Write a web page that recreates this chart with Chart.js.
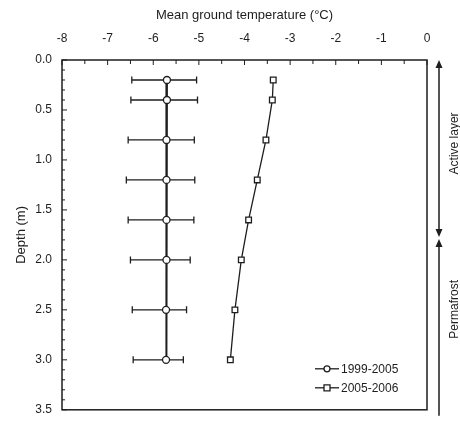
<!DOCTYPE html>
<html>
<head>
<meta charset="utf-8">
<script src="https://cdn.jsdelivr.net/npm/chart.js@4.4.1/dist/chart.umd.min.js"></script>
<style>
  html, body { margin: 0; padding: 0; background: #fff; }
  #wrap { width: 460px; height: 427px; }
</style>
</head>
<body>
<div id="wrap"><canvas id="profile"></canvas></div>
<script>
// Depths (m) of the sensors
const depths = [0.2, 0.4, 0.8, 1.2, 1.6, 2.0, 2.5, 3.0];

// 1999-2005 mean with min / max range
const temps9905 = [-5.70, -5.70, -5.71, -5.71, -5.71, -5.71, -5.72, -5.72];
const low9905 = [-6.47, -6.49, -6.55, -6.59, -6.55, -6.50, -6.46, -6.44];
const high9905 = [-5.05, -5.03, -5.10, -5.09, -5.11, -5.19, -5.27, -5.34];

// 2005-2006 mean
const temps0506 = [-3.37, -3.39, -3.53, -3.72, -3.91, -4.07, -4.21, -4.31];

const seriesLabels = ['1999-2005', '2005-2006'];
const xTicks = [-8, -7, -6, -5, -4, -3, -2, -1, 0];
const yTicks = [0.0, 0.5, 1.0, 1.5, 2.0, 2.5, 3.0, 3.5];

// base of the active layer (m)
const activeLayerBase = 1.78;

const ink = '#1e1e1e';
const font = 'Liberation Sans, Arial, sans-serif';

const toPoints = (xs) => xs.map((x, i) => ({ x: x, y: depths[i] }));

// error bars, inward ticks, frame, legend and the layer arrows
const extras = {
  id: 'extras',
  beforeDatasetsDraw(chart) {
    const ctx = chart.ctx;
    const xs = chart.scales.x;
    const ys = chart.scales.y;
    const a = chart.chartArea;
    ctx.save();
    ctx.strokeStyle = ink;
    ctx.lineWidth = 1.3;
    depths.forEach((d, i) => {
      const y = ys.getPixelForValue(d);
      const x1 = xs.getPixelForValue(low9905[i]);
      const x2 = xs.getPixelForValue(high9905[i]);
      ctx.beginPath();
      ctx.moveTo(x1, y); ctx.lineTo(x2, y);
      ctx.moveTo(x1, y - 3.5); ctx.lineTo(x1, y + 3.5);
      ctx.moveTo(x2, y - 3.5); ctx.lineTo(x2, y + 3.5);
      ctx.stroke();
    });

    // frame
    ctx.lineWidth = 1.5;
    ctx.strokeRect(a.left, a.top, a.right - a.left, a.bottom - a.top);

    // inward ticks
    ctx.lineWidth = 1;
    ctx.beginPath();
    for (let v = -8; v <= 0.001; v += 0.5) {
      const x = xs.getPixelForValue(v);
      const len = Number.isInteger(v) ? 5 : 4;
      ctx.moveTo(x, a.top); ctx.lineTo(x, a.top + len);
    }
    for (let k = 0; k <= 35; k++) {
      const y = ys.getPixelForValue(k / 10);
      const len = k % 5 === 0 ? 5 : 3;
      ctx.moveTo(a.left, y); ctx.lineTo(a.left + len, y);
    }
    ctx.stroke();
    ctx.restore();
  },
  afterDraw(chart) {
    const ctx = chart.ctx;
    const ys = chart.scales.y;
    const a = chart.chartArea;
    ctx.save();
    ctx.strokeStyle = ink;
    ctx.fillStyle = ink;

    // legend
    const lx = a.right - 112;
    const ly = a.bottom - 41;
    seriesLabels.forEach((lab, i) => {
      const y = ly + i * 19;
      ctx.lineWidth = 1.3;
      ctx.beginPath();
      ctx.moveTo(lx, y); ctx.lineTo(lx + 24, y);
      ctx.stroke();
      ctx.fillStyle = '#fff';
      ctx.beginPath();
      if (i === 0) {
        ctx.arc(lx + 12, y, 3, 0, Math.PI * 2);
      } else {
        ctx.rect(lx + 9, y - 3, 6, 6);
      }
      ctx.fill();
      ctx.stroke();
      ctx.fillStyle = ink;
      ctx.font = '12px ' + font;
      ctx.textBaseline = 'middle';
      ctx.textAlign = 'left';
      ctx.fillText(lab, lx + 26, y + 1);
    });

    // layer arrows
    const ax = a.right + 12;
    const yTop = ys.getPixelForValue(0);
    const yMid1 = ys.getPixelForValue(activeLayerBase) - 1;
    const yMid2 = ys.getPixelForValue(activeLayerBase) + 1;
    const yEnd = ys.getPixelForValue(3.5) + 6;
    ctx.lineWidth = 1.5;
    ctx.beginPath();
    ctx.moveTo(ax, yTop + 4); ctx.lineTo(ax, yMid1 - 4);
    ctx.moveTo(ax, yMid2 + 4); ctx.lineTo(ax, yEnd);
    ctx.stroke();
    const head = (y, dir) => {
      ctx.beginPath();
      ctx.moveTo(ax, y);
      ctx.lineTo(ax - 3.5, y + dir * 8);
      ctx.lineTo(ax + 3.5, y + dir * 8);
      ctx.closePath();
      ctx.fill();
    };
    head(yTop, 1);
    head(yMid1, -1);
    head(yMid2, 1);

    ctx.font = '12px ' + font;
    ctx.textAlign = 'center';
    ctx.textBaseline = 'middle';
    const vText = (txt, y) => {
      ctx.save();
      ctx.translate(ax + 16, y);
      ctx.rotate(-Math.PI / 2);
      ctx.fillText(txt, 0, 0);
      ctx.restore();
    };
    vText('Active layer', (yTop + yMid1) / 2 - 5);
    vText('Permafrost', (yMid2 + yEnd) / 2 - 18);
    ctx.restore();
  }
};

new Chart(document.getElementById('profile'), {
  type: 'scatter',
  data: {
    datasets: [
      {
        label: seriesLabels[0],
        data: toPoints(temps9905),
        showLine: true,
        borderColor: ink,
        borderWidth: 2,
        pointStyle: 'circle',
        pointRadius: 3.5,
        pointBorderWidth: 1.3,
        pointBackgroundColor: '#fff',
        pointBorderColor: ink
      },
      {
        label: seriesLabels[1],
        data: toPoints(temps0506),
        showLine: true,
        borderColor: ink,
        borderWidth: 1.3,
        pointStyle: 'rect',
        pointRadius: 4,
        pointBorderWidth: 1.3,
        pointBackgroundColor: '#fff',
        pointBorderColor: ink
      }
    ]
  },
  options: {
    responsive: true,
    maintainAspectRatio: false,
    animation: false,
    layout: { padding: { top: 0, left: 0, right: 33, bottom: 14 } },
    plugins: {
      legend: { display: false },
      tooltip: { enabled: false }
    },
    scales: {
      x: {
        type: 'linear',
        position: 'top',
        min: -8,
        max: 0,
        afterBuildTicks: (scale) => { scale.ticks = xTicks.map(v => ({ value: v })); },
        afterFit: (scale) => { scale.height = 60; },
        grid: { display: false, drawTicks: false },
        border: { display: false },
        ticks: {
          color: ink,
          padding: 14,
          font: { family: font, size: 12 },
          callback: (v) => String(v)
        },
        title: {
          display: true,
          text: 'Mean ground temperature (°C)',
          color: ink,
          font: { family: font, size: 13 },
          padding: { top: 8, bottom: 0 }
        }
      },
      y: {
        type: 'linear',
        reverse: true,
        min: 0,
        max: 3.5,
        afterBuildTicks: (scale) => { scale.ticks = yTicks.map(v => ({ value: v })); },
        afterFit: (scale) => { scale.width = 62; },
        grid: { display: false, drawTicks: false },
        border: { display: false },
        ticks: {
          color: ink,
          padding: 10,
          font: { family: font, size: 12 },
          callback: (v) => Number(v).toFixed(1)
        },
        title: {
          display: true,
          text: 'Depth (m)',
          color: ink,
          font: { family: font, size: 13 },
          padding: { top: 14, bottom: 0 }
        }
      }
    }
  },
  plugins: [extras]
});
</script>
</body>
</html>
